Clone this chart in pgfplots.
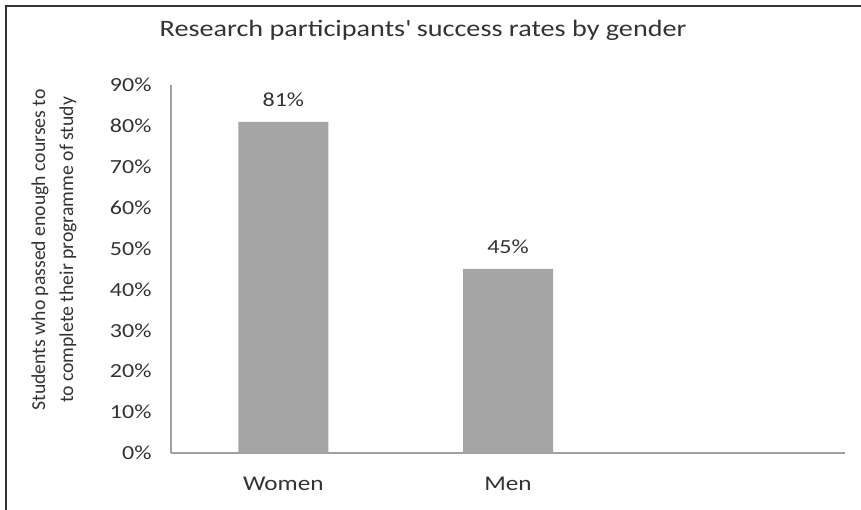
\documentclass[border=0pt]{standalone}
\usepackage{fontspec}
\setmainfont{Carlito}
\newfontfamily\wide{Carlito}[FakeStretch=1.2]
\usepackage{pgfplots}
\pgfplotsset{compat=1.18}
\definecolor{barc}{HTML}{A5A5A5}
\definecolor{axc}{HTML}{A0A0A0}
\definecolor{txt}{HTML}{333333}
\begin{document}
\begin{tikzpicture}[x=1pt,y=1pt]
\useasboundingbox (0,0) rectangle (861,510);
\draw[line width=2pt, color=black!80] (6,0) -- (6,504) -- (861,504);
\begin{axis}[
  at={(171pt,57pt)}, anchor=south west,
  scale only axis, width=674pt, height=368pt,
  xmin=-0.5, xmax=2.5, ymin=0, ymax=90,
  axis x line*=bottom, axis y line*=left,
  axis line style={draw=axc, line width=1.3pt, -},
  xtick={0,1}, xticklabels={Women,Men},
  ytick={0,10,...,90},
  yticklabel={\pgfmathprintnumber{\tick}\%},
  /pgf/number format/assume math mode=true,
  major tick length=0pt,
  tick label style={text=txt},
  xticklabel style={font=\wide\fontsize{21}{24}\selectfont, anchor=base, yshift=-38pt},
  yticklabel style={font=\wide\fontsize{20}{24}\selectfont, anchor=east, xshift=-16pt},
  ylabel={Students who passed enough courses to\\to complete their programme of study},
  ylabel style={at={(axis description cs:-0.1736,0.552)}, anchor=center, align=center, font=\fontsize{19.7}{28}\selectfont, text=txt},
  title={Research participants\textquotesingle\ success rates by gender},
  title style={at={(axis description cs:0.374,1)}, anchor=base, yshift=43pt, font=\wide\fontsize{23.5}{28}\selectfont, text=txt},
  ybar, bar width=90pt,
  point meta=y,
  nodes near coords={\pgfmathprintnumber{\pgfplotspointmeta}\%},
  every node near coord/.append style={anchor=base, yshift=15pt, font=\wide\fontsize{20}{24}\selectfont, text=txt},
  clip=false,
]
\addplot[fill=barc, draw=none] coordinates {(0,81) (1,45)};
\end{axis}
\end{tikzpicture}
\end{document}
